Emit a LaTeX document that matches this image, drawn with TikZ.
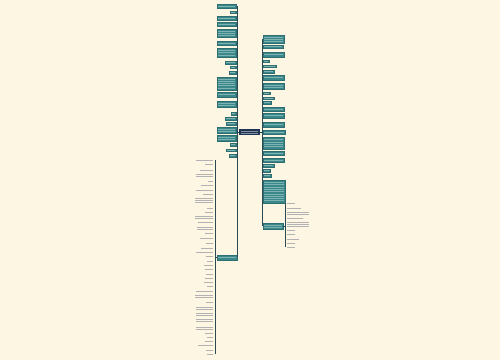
\documentclass[tikz,border=0pt]{standalone}
\usetikzlibrary{positioning}
\definecolor{paper}{HTML}{FCF6E2}
\definecolor{mapteal}{HTML}{3A8889}
\definecolor{mapedge}{HTML}{2E6E70}
\definecolor{mapnavy}{HTML}{1E3452}
\definecolor{mapline}{HTML}{2C4A55}
\begin{document}
\begin{tikzpicture}[
    x=1pt, y=-1pt,
    box/.style={draw=mapedge, fill=mapteal, inner sep=0pt, line width=0.3pt},
    root/.style={fill=mapnavy, inner sep=0pt},
    link/.style={mapline, line width=0.6pt},
    greek/.style={white!35!mapteal, line width=0.45pt},
    leaf/.style={gray!60, line width=0.6pt}
]

% Paper
\fill[paper] (0,0) rectangle (500,360);
\useasboundingbox (0,0) rectangle (500,360);

% Central topic
\node [root, anchor=north west, minimum width=21pt, minimum height=6pt] (center) at (239,129) {};
\foreach \yy in {131,133.5}
    \draw [white!45!mapnavy, line width=0.45pt] (241,\yy) -- (258,\yy);

% Left topics (top to bottom)
\foreach \yt/\yb/\xl [count=\i] in {4/8/217, 11/13/230, 16/20/217, 22/26/217, 29/37/217,
    41/45/217, 48/57/217, 61/64/225, 66/68/230, 71/74/229, 77/90/217, 92/97/217,
    101/107/217, 112/115/231, 117/120/225, 122/125/226, 127/133/217, 135/141/217,
    143/146/230, 149/151/226, 154/157/229} {
    \pgfmathsetmacro\w{236-\xl}
    \pgfmathsetmacro\h{\yb-\yt}
    \pgfmathtruncatemacro\n{max(1,floor((\h-0.5)/2.4))}
    \node [box, anchor=north west, minimum width=\w pt, minimum height=\h pt] (l\i) at (\xl,\yt) {};
    \foreach \k in {1,...,\n} {
        \pgfmathsetmacro\yy{\yt+\h*\k/(\n+1)}
        \draw [greek] (\xl+1.2,\yy) -- (234.8,\yy);
    }
}

% Right topics (top to bottom)
\foreach \yt/\yb/\xr [count=\i] in {35/43/284, 45/48/283, 52/57/284, 60/62/269, 65/67/276,
    70/73/274, 75/80/284, 83/89/284, 92/94/270, 97/99/274, 101/104/271, 107/111/284,
    113/118/284, 122/127/284, 130/134/285, 137/149/284, 151/155/284, 158/162/284,
    164/167/274, 169/172/270, 174/177/271, 180/203/285, 223/229/283} {
    \pgfmathsetmacro\w{\xr-263}
    \pgfmathsetmacro\h{\yb-\yt}
    \pgfmathtruncatemacro\n{max(1,floor((\h-0.5)/2.4))}
    \node [box, anchor=north west, minimum width=\w pt, minimum height=\h pt] (r\i) at (263,\yt) {};
    \foreach \k in {1,...,\n} {
        \pgfmathsetmacro\yy{\yt+\h*\k/(\n+1)}
        \draw [greek] (264.2,\yy) -- (\xr-1.2,\yy);
    }
}

% Lower left topic
\node [box, anchor=north west, minimum width=20pt, minimum height=4.5pt] (low) at (217,255) {};
\draw [greek] (218.2,257.2) -- (235.8,257.2);

% Lower left details
\foreach \yc/\xl/\n [count=\i] in {160/196/1, 164/205/1, 170/200/1, 175/196/2, 181/208/1,
    185/201/1, 190/196/1, 194/203/1, 200/195/3, 208/207/1, 212/205/1, 217/195/2,
    222/198/1, 228/197/2, 233/205/1, 238/200/1, 243/206/1, 248/201/1, 252/196/1,
    256/206/1, 261/207/1, 265/204/1, 269/205/1, 274/206/1, 278/205/1, 282/204/1,
    286/207/1, 291/196/1, 296/195/2, 302/206/1, 308/196/2, 314/196/2, 320/196/2,
    328/196/2, 333/205/1, 337/207/1, 341/205/1, 345/198/1, 350/206/1, 354/207/1} {
    \pgfmathsetmacro\w{213-\xl}
    \node [inner sep=0pt, anchor=east, minimum width=\w pt, minimum height=\n*2.2pt] (d\i) at (213,\yc) {};
    \foreach \k in {1,...,\n} {
        \pgfmathsetmacro\yy{\yc+(\k-(\n+1)/2)*2.2}
        \draw [leaf] (\xl,\yy) -- (213,\yy);
    }
}

% Lower right details
\foreach \yc/\xr/\n [count=\i] in {203/295/1, 208/301/1, 213/309/2, 218/303/1, 224/309/3,
    230/295/1, 234/295/1, 239/299/1, 243/295/1, 247/295/1} {
    \pgfmathsetmacro\w{\xr-287}
    \node [inner sep=0pt, anchor=west, minimum width=\w pt, minimum height=\n*2.2pt] (e\i) at (287,\yc) {};
    \foreach \k in {1,...,\n} {
        \pgfmathsetmacro\yy{\yc+(\k-(\n+1)/2)*2.2}
        \draw [leaf] (287,\yy) -- (\xr,\yy);
    }
}

% Spines
\coordinate (lx) at (237.5,0);
\coordinate (rx) at (262,0);
\coordinate (dx) at (215,0);
\coordinate (ex) at (285,0);
\draw [link] (l1.center -| lx) -- (low.center -| lx);
\draw [link] (r1.center -| rx) -- (r23.center -| rx);
\draw [link] (d1.center -| dx) -- (d40.center -| dx);
\draw [link] (e1.center -| ex) -- (e10.center -| ex);

% Connections
\draw [link] (center.west) -- (center.west -| lx);
\draw [link] (center.east) -- (center.east -| rx);
\draw [link] (low.west) -- (low.west -| dx);
\draw [link] (r23.east) -- (r23.east -| ex);

\end{tikzpicture}
\end{document}
